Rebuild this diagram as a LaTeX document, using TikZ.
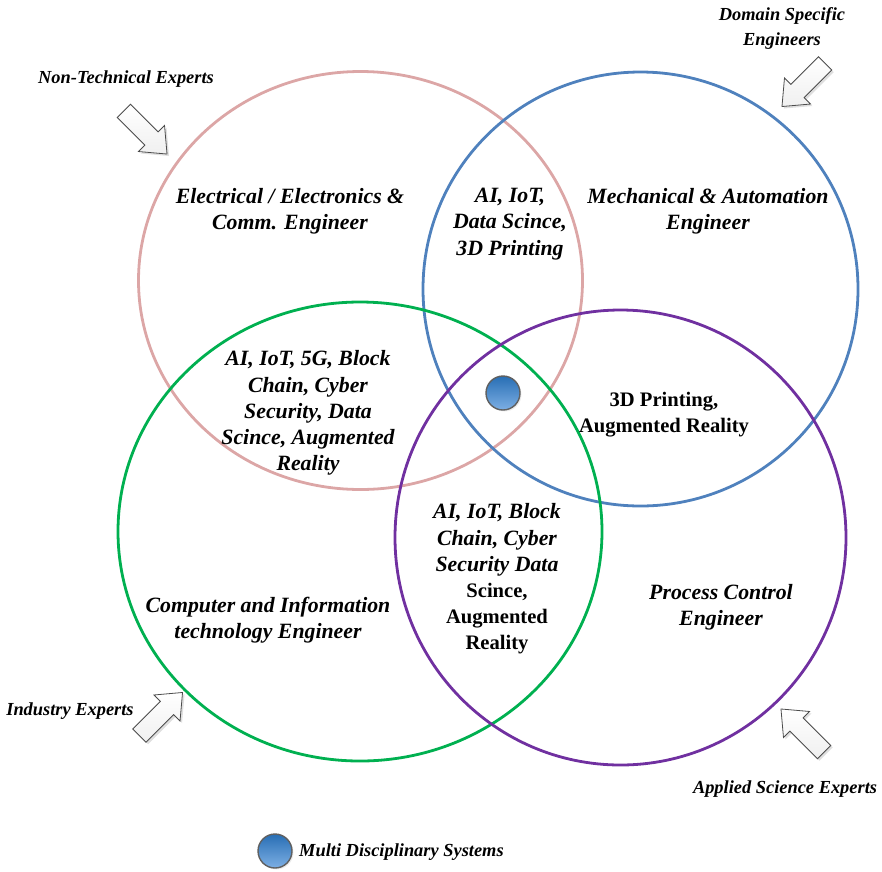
\documentclass[tikz,border=0pt]{standalone}
\usepackage{fontspec}
\setmainfont{Liberation Serif}
\usetikzlibrary{shapes.arrows,shadows}
\definecolor{ringpink}{RGB}{220,166,166}
\definecolor{ringblue}{RGB}{79,129,189}
\definecolor{ringgreen}{RGB}{0,176,80}
\definecolor{ringpurple}{RGB}{112,48,160}
\definecolor{balltop}{RGB}{40,110,180}
\definecolor{ballbot}{RGB}{125,175,228}
\newcommand{\uplbl}{\fontsize{20.6}{26.2}\selectfont\upshape}
\tikzset{
  ring/.style={line width=2.8pt},
  lbl/.style={align=center, inner sep=0pt, font=\fontsize{21.8}{26.2}\selectfont\bfseries\itshape},
  lblup/.style={lbl, font=\fontsize{20.6}{26.2}\selectfont\bfseries},
  side/.style={align=center, inner sep=0pt, font=\fontsize{18.4}{25}\selectfont\bfseries\itshape},
  pointer/.style={single arrow, draw=gray!60!black, line width=0.8pt,
    top color=white, bottom color=gray!12,
    minimum height=61pt, minimum width=36pt, inner xsep=0pt, inner ysep=9pt,
    single arrow head extend=9pt, single arrow tip angle=80,
    drop shadow={opacity=0.25, shadow xshift=2pt, shadow yshift=-2pt}},
  ball/.style={circle, draw=gray!75!black, line width=1.4pt, minimum size=34pt,
    inner sep=0pt, top color=balltop, bottom color=ballbot,
    drop shadow={opacity=0.15, shadow xshift=1.5pt, shadow yshift=-1.5pt}}
}
\begin{document}
\begin{tikzpicture}[x=1pt,y=-1pt]
\useasboundingbox (0,0) rectangle (882,871);

% four overlapping fields
\draw[ring, ringpink]   (360.5,280.5) ellipse [x radius=222, y radius=209];
\draw[ring, ringblue]   (640.5,289)   ellipse [x radius=217.5, y radius=217];
\draw[ring, ringgreen]  (360,531.5)   ellipse [x radius=242, y radius=229.5];
\draw[ring, ringpurple] (620.5,537.5) ellipse [x radius=225.5, y radius=227.5];

% field names and overlaps
\node[lbl] (elec) at (290,211) {Electrical / Electronics \&\\Comm. Engineer};
\node[lbl] (ai1) at (510,224) {AI, IoT,\\Data Scince,\\3D Printing};
\node[lbl] (mech) at (708,211) {Mechanical \& Automation\\Engineer};
\node[lbl] (ai2) at (308,413) {AI, IoT, 5G, Block\\Chain, Cyber\\Security, Data\\Scince, Augmented\\Reality};
\node[lblup] (print) at (664,414.5) {3D Printing,\\Augmented Reality};
\node[lbl] (ai3) at (497,579) {AI, IoT, Block\\Chain, Cyber\\Security Data\\\uplbl Scince,\\\uplbl Augmented\\\uplbl Reality};
\node[lbl] (proc) at (721,607) {Process Control\\Engineer};
\node[lbl] (comp) at (268,620) {Computer and Information\\technology Engineer};

% centre marker
\node[ball] (core) at (503,393) {};

% outside groups and their pointers
\node[side] (nontech) at (126,79) {Non-Technical Experts};
\node[side] (domain) at (782,28.5) {Domain Specific\\Engineers};
\node[side] (industry) at (70,711) {Industry Experts};
\node[side] (applied) at (785,789) {Applied Science Experts};

\node[pointer, rotate=-45] (p1) at (141.5,128.5) {};
\node[pointer, rotate=-135] (p2) at (807.5,81) {};
\node[pointer, rotate=45] (p3) at (157,718) {};
\node[pointer, rotate=135] (p4) at (806.5,734.5) {};

% legend
\node[ball] (key) at (275,851) {};
\node[side, anchor=west] (keytext) at (299,852) {Multi Disciplinary Systems};
\end{tikzpicture}
\end{document}
